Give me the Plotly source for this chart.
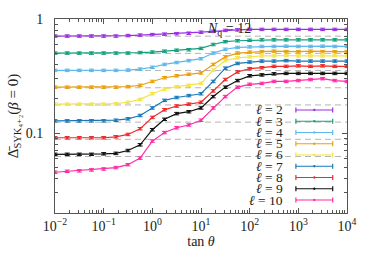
import plotly.graph_objects as go

tan_theta = [0.01, 0.0178, 0.0316, 0.0562, 0.1, 0.178, 0.316, 0.562, 1.0, 1.78, 3.16, 5.62,
             10.0, 17.8, 31.6, 56.2, 100.0, 178.0, 316.0, 562.0, 1000.0, 1780.0, 3160.0, 5620.0, 10000.0]

l2 = [0.709, 0.709, 0.709, 0.709, 0.709, 0.709, 0.716, 0.723, 0.730, 0.737, 0.744, 0.751, 0.766,
      0.780, 0.795, 0.803, 0.811, 0.811, 0.811, 0.811, 0.811, 0.811, 0.811, 0.811, 0.811]
l3 = [0.503, 0.503, 0.503, 0.503, 0.503, 0.503, 0.503, 0.508, 0.513, 0.523, 0.533, 0.538, 0.553,
      0.598, 0.633, 0.645, 0.651, 0.657, 0.657, 0.657, 0.657, 0.657, 0.657, 0.657, 0.657]
l4 = [0.355, 0.355, 0.355, 0.355, 0.355, 0.355, 0.357, 0.364, 0.378, 0.400, 0.416, 0.432, 0.449,
      0.503, 0.543, 0.564, 0.570, 0.575, 0.575, 0.578, 0.575, 0.575, 0.578, 0.575, 0.575]
l5 = [0.253, 0.253, 0.253, 0.253, 0.253, 0.253, 0.256, 0.263, 0.284, 0.306, 0.318, 0.328, 0.337,
      0.400, 0.466, 0.503, 0.513, 0.518, 0.523, 0.518, 0.518, 0.523, 0.518, 0.518, 0.518]
l6 = [0.1796, 0.1796, 0.1796, 0.1796, 0.1796, 0.1813, 0.1866, 0.1976, 0.2215, 0.2437, 0.2556, 0.263,
      0.273, 0.357, 0.432, 0.457, 0.466, 0.475, 0.475, 0.479, 0.475, 0.475, 0.475, 0.479, 0.475]
l7 = [0.1282, 0.1282, 0.1282, 0.1282, 0.1282, 0.1299, 0.1336, 0.1429, 0.1664, 0.1939, 0.2053, 0.2133,
      0.2215, 0.284, 0.371, 0.408, 0.420, 0.428, 0.428, 0.432, 0.428, 0.428, 0.428, 0.428, 0.428]
l8 = [0.0912, 0.0912, 0.0912, 0.0912, 0.0912, 0.0930, 0.0975, 0.1094, 0.1375, 0.1602, 0.1729, 0.1796,
      0.1866, 0.2346, 0.295, 0.3436, 0.3673, 0.3744, 0.385, 0.385, 0.389, 0.385, 0.389, 0.385, 0.385]
l9 = [0.0653, 0.0653, 0.0653, 0.0653, 0.0660, 0.0666, 0.0705, 0.0791, 0.1073, 0.1323, 0.1484, 0.1542,
      0.1664, 0.2092, 0.253, 0.289, 0.318, 0.324, 0.331, 0.334, 0.334, 0.334, 0.334, 0.334, 0.334]
l10 = [0.0455, 0.0464, 0.0468, 0.0477, 0.0486, 0.0500, 0.0530, 0.0605, 0.0853, 0.1013, 0.1115, 0.1180,
       0.1299, 0.1664, 0.2092, 0.253, 0.268, 0.273, 0.284, 0.284, 0.289, 0.295, 0.3006, 0.289, 0.284]

series = [l2, l3, l4, l5, l6, l7, l8, l9, l10]
ell_values = ["2", "3", "4", "5", "6", "7", "8", "9", "10"]
colors = ["#9b2fe3", "#12a07a", "#5cb8ea", "#e8a010", "#f2e44a", "#1a78b8", "#ee2a2a", "#111111", "#ff2aa6"]

ref_levels = [0.7071, 0.5, 0.3536, 0.25, 0.1768, 0.125, 0.0884, 0.0625]
x_range = [0.01, 10000.0]

x_tickvals = [0.01, 0.1, 1, 10, 100, 1000, 10000]
x_ticktext = ["10<sup>−2</sup>", "10<sup>−1</sup>", "10<sup>0</sup>", "10<sup>1</sup>",
              "10<sup>2</sup>", "10<sup>3</sup>", "10<sup>4</sup>"]
y_tickvals = [0.1, 1]
y_ticktext = ["0.1", "1"]

x_minor = [m * 10.0 ** e for e in range(-2, 4) for m in range(2, 10)]
y_minor = [m * 10.0 ** e for e in range(-2, 0) for m in range(2, 10)]

SERIF = "Liberation Serif, DejaVu Serif, serif"
TXT = "#222222"
AX = "#555555"

fig = go.Figure()

for lv in ref_levels:
    fig.add_trace(go.Scatter(x=x_range, y=[lv, lv], mode="lines",
                             line=dict(color="#b4b4b4", width=1, dash="6px,4px"),
                             showlegend=False, hoverinfo="skip"))

for ys, c, lab in zip(series, colors, ell_values):
    fig.add_trace(go.Scatter(x=tan_theta, y=ys, mode="lines+markers", name="ℓ = " + lab,
                             line=dict(color=c, width=1.2),
                             marker=dict(color=c, size=2.5),
                             error_y=dict(type="percent", value=2.5, color=c, thickness=1, width=2.5),
                             showlegend=False))

# custom legend: text on the left, error-bar glyph on the right
leg_top = 0.531
leg_step = 0.058
x_text = 0.787
x_a, x_b = 0.825, 0.951
for i, (c, lab) in enumerate(zip(colors, ell_values)):
    yy = leg_top - i * leg_step
    fig.add_annotation(x=x_text, y=yy, xref="paper", yref="paper", text="<i>ℓ</i> = " + lab,
                       showarrow=False, xanchor="right", yanchor="middle",
                       font=dict(family=SERIF, size=13.5, color=TXT))
    fig.add_shape(type="line", xref="paper", yref="paper", x0=x_a, x1=x_b, y0=yy, y1=yy,
                  line=dict(color=c, width=1.2))
    for xe in (x_a, x_b):
        fig.add_shape(type="line", xref="paper", yref="paper", x0=xe, x1=xe, y0=yy - 0.013, y1=yy + 0.013,
                      line=dict(color=c, width=1.2))
    fig.add_shape(type="circle", xref="paper", yref="paper",
                  x0=(x_a + x_b) / 2 - 0.004, x1=(x_a + x_b) / 2 + 0.004, y0=yy - 0.006, y1=yy + 0.006,
                  line=dict(color=c, width=0), fillcolor=c)

fig.add_annotation(x=0.595, y=0.948, xref="paper", yref="paper",
                   text="<i>N</i><sub>q</sub> = 12", showarrow=False, yanchor="middle",
                   font=dict(family=SERIF, size=14, color=TXT))

axis_common = dict(type="log", showgrid=False, zeroline=False, showline=True, linecolor=AX,
                   linewidth=1, mirror="allticks", ticks="inside", ticklen=5, tickcolor=AX,
                   tickfont=dict(family=SERIF, size=14, color=TXT))

fig.update_xaxes(**axis_common, range=[-2, 4],
                 tickvals=x_tickvals, ticktext=x_ticktext,
                 minor=dict(ticks="inside", ticklen=3, tickcolor=AX, showgrid=False, tickvals=x_minor),
                 title=dict(text="tan <i>θ</i>", font=dict(family=SERIF, size=14, color=TXT), standoff=2))
fig.update_yaxes(**axis_common, range=[-1.699, 0],
                 tickvals=y_tickvals, ticktext=y_ticktext, ticklabelstandoff=8,
                 minor=dict(ticks="inside", ticklen=3, tickcolor=AX, showgrid=False, tickvals=y_minor),
                 title=dict(text="Δ̄<sub>SYK₄₊₂</sub>(<i>β</i> = 0)",
                            font=dict(family=SERIF, size=15, color=TXT), standoff=3))

fig.update_layout(width=374, height=258, margin=dict(l=52, r=27, t=14, b=39),
                  plot_bgcolor="white", paper_bgcolor="white", showlegend=False)

fig.write_html("out.html", config={"displayModeBar": False},
               post_script="document.body.style.margin='0';")
